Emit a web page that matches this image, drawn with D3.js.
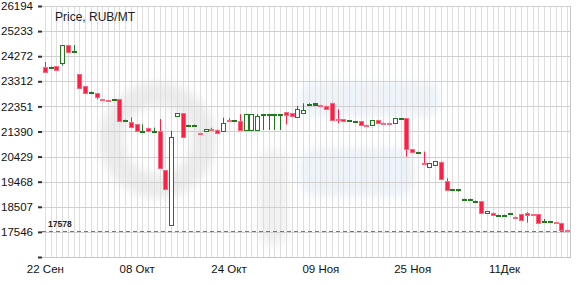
<!DOCTYPE html>
<html>
<head>
<meta charset="utf-8">
<script src="https://cdn.jsdelivr.net/npm/d3@7"></script>
<style>
  body { margin: 0; background: #fff; }
  svg { display: block; font-family: "Liberation Sans", Arial, sans-serif; }
</style>
</head>
<body>
<div id="chart"></div>
<script>
// ── Data ──────────────────────────────────────────────────────────────────
const firstDay = "2014-09-22";

const opens  = [23870,23860,23897,24012,24701,24452,23591,23132,22905,22852,22630,22600,22610,22620,21825,21754,21665,21390,21535,21400,
                21409,19916,17811,21983,22086,21630,21635,21335,21390,21470,21466,21382,21840,21800,21792,21450,21450,21466,22030,22030,
                22030,22030,22136,22079,21945,22110,22435,22404,22410,22378,22492,21860,21857,21815,21780,21792,21645,21639,21830,21730,
                21725,21704,21890,21895,20708,20600,20195,20031,20088,20241,19506,19170,19170,18800,18800,18725,18729,18258,18258,18190,
                18190,18255,18135,18232,18281,18225,18232,17960,17935,17920,17899,17625];
const highs  = [24050,23875,23897,24701,24701,24701,23591,23132,22920,22852,22630,22600,22625,22620,21840,21926,21665,21660,21535,21535,
                21868,19916,21409,22086,22086,21645,21650,21335,21485,21530,21466,21918,21900,21815,22052,22045,22045,22050,22045,22045,
                22045,22045,22136,22079,22366,22469,22470,22469,22410,22378,22492,22240,21857,21830,21795,21792,21645,21830,21830,21730,
                21725,21895,21905,21895,20708,20615,20617,20165,20260,20241,19598,19185,19185,18815,18815,18740,18729,18346,18281,18205,
                18205,18270,18135,18232,18308,18225,18232,18040,17950,17920,17899,17625];
const lows   = [23679,23860,23730,23916,24452,24452,23067,22852,22905,22622,22620,22590,22610,21792,21825,21562,21382,21390,21409,21400,
                20004,19177,17811,21983,21152,21630,21635,21320,21390,21455,21351,21382,21830,21800,21466,21450,21450,21450,21450,21450,
                21450,21450,21665,21964,21945,22110,22435,22404,22395,22278,21857,21704,21765,21815,21780,21639,21630,21639,21715,21715,
                21710,21704,21890,20425,20593,20600,20170,20031,20088,19598,19177,19170,19085,18800,18800,18725,18258,18258,18193,18190,
                18190,18255,18120,18002,17899,18210,17899,17960,17935,17905,17620,17578];
const closes = [23679,23875,23730,24701,24452,24470,23067,22852,22920,22684,22620,22590,22625,21792,21840,21562,21382,21405,21409,21415,
                20004,19177,21191,22086,21152,21645,21650,21320,21485,21455,21351,21704,21830,21815,21466,22045,22045,21983,22045,22045,
                22045,22045,22021,21964,22240,22213,22450,22469,22395,22278,21857,21845,21765,21830,21795,21639,21630,21830,21715,21715,
                21710,21895,21905,20708,20593,20615,20180,20165,20260,19598,19177,19185,19185,18815,18815,18740,18258,18346,18193,18205,
                18205,18270,18120,18002,18220,18210,17899,17975,17950,17905,17620,17578];

const yTickValues = [16585, 17546, 18507, 19468, 20429, 21390, 22351, 23312, 24272, 25233, 26194];
const yTickLabels = ["", "17546", "18507", "19468", "20429", "21390", "22351", "23312", "24272", "25233", "26194"];
const xTickDates  = ["2014-09-22", "2014-10-08", "2014-10-24", "2014-11-09", "2014-11-25", "2014-12-11"];
const xTickLabels = ["22 Сен", "08 Окт", "24 Окт", "09 Ноя", "25 Ноя", "11Дек"];
const lastPrice = 17578;
const title = "Price, RUB/MT";

// ── Layout ────────────────────────────────────────────────────────────────
const width = 580, height = 285;
const plotLeft = 42, plotRight = 570, plotTop = 6, plotBottom = 257;

const parse = d3.utcParse("%Y-%m-%d");
const start = parse(firstDay);
const days = d3.utcDay.range(start, d3.utcDay.offset(start, opens.length));
const candles = days.map((d, i) => ({ date: d, o: opens[i], h: highs[i], l: lows[i], c: closes[i] }));

const x = d3.scaleUtc()
  .domain([d3.utcHour.offset(days[0], -12), d3.utcHour.offset(days[days.length - 1], 12)])
  .range([plotLeft, plotRight]);
const y = d3.scaleLinear().domain([16585, 26194]).range([plotBottom, plotTop]);

const svg = d3.select("#chart").append("svg").attr("width", width).attr("height", height);

// ── Watermark (faint logo behind the plot) ────────────────────────────────
const defs = svg.append("defs");
defs.append("filter").attr("id", "soft")
  .append("feGaussianBlur").attr("stdDeviation", "4");

const mark = svg.append("g").attr("filter", "url(#soft)");
mark.append("circle").attr("cx", 158).attr("cy", 140).attr("r", 46)
  .attr("fill", "none").attr("stroke", "#ececec").attr("stroke-width", 24);
mark.append("rect").attr("x", 258).attr("y", 150).attr("width", 30).attr("height", 95).attr("rx", 12)
  .attr("fill", "#f1f1f1");
mark.append("rect").attr("x", 300).attr("y", 82).attr("width", 140).attr("height", 34).attr("rx", 14)
  .attr("fill", "#edf3f8");
mark.append("rect").attr("x", 300).attr("y", 148).attr("width", 115).attr("height", 48).attr("rx", 16)
  .attr("fill", "#edf3f8");

// ── Grid ──────────────────────────────────────────────────────────────────
const grid = svg.append("g");
grid.selectAll("line.v").data(days).join("line")
  .attr("x1", d => Math.round(x(d)) + 0.5).attr("x2", d => Math.round(x(d)) + 0.5)
  .attr("y1", plotTop).attr("y2", plotBottom)
  .attr("stroke", "#dedede").attr("stroke-width", 1);

grid.selectAll("line.h").data(yTickValues).join("line")
  .attr("x1", plotLeft).attr("x2", plotRight)
  .attr("y1", d => Math.round(y(d)) + 0.5).attr("y2", d => Math.round(y(d)) + 0.5)
  .attr("stroke", "#d0d0d0").attr("stroke-width", 1);

svg.append("line")
  .attr("x1", plotRight + 0.5).attr("x2", plotRight + 0.5)
  .attr("y1", plotTop).attr("y2", plotBottom + 1)
  .attr("stroke", "#c8c8c8");

// ── Axes ──────────────────────────────────────────────────────────────────
const yAxis = d3.axisLeft(y).tickValues(yTickValues)
  .tickFormat((d, i) => yTickLabels[i]).tickSize(4).tickPadding(5);
const yAxisG = svg.append("g").attr("transform", `translate(${plotLeft},0)`).call(yAxis);
yAxisG.select(".domain").remove();
yAxisG.selectAll(".tick line").attr("stroke", "#333").attr("stroke-width", 2);
yAxisG.selectAll("text").attr("font-size", "11.5px").attr("fill", "#111");

const xAxis = d3.axisBottom(x).tickValues(xTickDates.map(parse))
  .tickFormat((d, i) => xTickLabels[i]).tickSize(0).tickPadding(8);
const xAxisG = svg.append("g").attr("transform", `translate(0,${plotBottom})`).call(xAxis);
xAxisG.select(".domain").attr("stroke", "#c8c8c8");
xAxisG.selectAll("text").attr("font-size", "11.5px").attr("fill", "#111");

// ── Title ─────────────────────────────────────────────────────────────────
svg.append("text").attr("x", 55).attr("y", 21)
  .attr("font-size", "12px").attr("fill", "#222").text(title);

// ── Last price line ───────────────────────────────────────────────────────
svg.append("line")
  .attr("x1", plotLeft).attr("x2", plotRight)
  .attr("y1", Math.round(y(lastPrice)) + 0.5).attr("y2", Math.round(y(lastPrice)) + 0.5)
  .attr("stroke", "#777").attr("stroke-dasharray", "4 3");
svg.append("text").attr("x", 48).attr("y", y(lastPrice) - 4)
  .attr("font-size", "8.5px").attr("font-weight", "bold").attr("fill", "#222").text(lastPrice);

// ── Candles ───────────────────────────────────────────────────────────────
const up = "#1f7a1f", down = "#ff1f45", downEdge = "#ff6680";
const candleG = svg.append("g").selectAll("g").data(candles).join("g")
  .attr("transform", d => `translate(${Math.round(x(d.date)) + 0.5},0)`);

candleG.append("line")
  .attr("y1", d => y(d.h)).attr("y2", d => y(d.l))
  .attr("stroke", d => d.c >= d.o ? up : down).attr("stroke-width", 1);

candleG.append("rect")
  .attr("x", -2).attr("width", 4)
  .attr("y", d => Math.round(y(Math.max(d.o, d.c))) + 0.5)
  .attr("height", d => Math.max(1, Math.round(Math.abs(y(d.o) - y(d.c)))))
  .attr("fill", d => {
    const flat = Math.abs(y(d.o) - y(d.c)) < 2;
    if (d.c >= d.o) return flat ? up : "#fff";
    return down;
  })
  .attr("stroke", d => d.c >= d.o ? up : downEdge)
  .attr("stroke-width", 1);
</script>
</body>
</html>
